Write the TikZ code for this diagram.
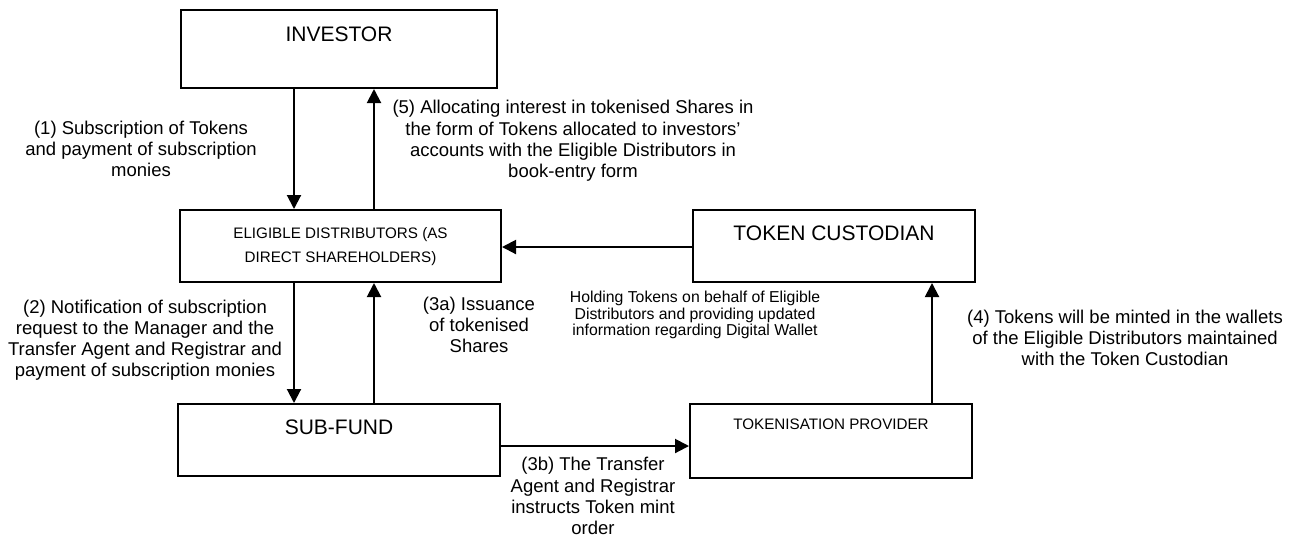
\documentclass[tikz,border=0pt]{standalone}
\usepackage{fontspec}
\setmainfont{Liberation Sans}
\usetikzlibrary{arrows.meta}
\begin{document}
\begin{tikzpicture}[x=0.5pt,y=-0.5pt,
  box/.style={draw,line width=1pt,inner sep=0pt},
  arr/.style={line width=1pt,-{Triangle[length=7pt,width=7pt]}},
  bigtxt/.style={inner sep=0pt,font=\fontsize{10.5pt}{12pt}\selectfont},
  smalltxt/.style={inner sep=0pt,align=center,font=\fontsize{7.6pt}{12pt}\selectfont},
  lbl/.style={inner sep=0pt,align=center,font=\fontsize{9.25pt}{10.6pt}\selectfont},
  note/.style={inner sep=0pt,align=center,font=\fontsize{7.9pt}{8.4pt}\selectfont}]
\useasboundingbox (0,0) rectangle (1304,538);
% boxes
\node[box,minimum width=158pt,minimum height=39pt] (inv) at (339,49) {};
\node[box,minimum width=160.5pt,minimum height=36pt] (elig) at (340.5,246) {};
\node[box,minimum width=141pt,minimum height=36pt] (tc) at (834,246) {};
\node[box,minimum width=161pt,minimum height=36pt] (sf) at (339,440) {};
\node[box,minimum width=141pt,minimum height=37pt] (tp) at (831,441) {};
% box texts
\node[bigtxt] (invt) at (339,34) {INVESTOR};
\node[smalltxt] (eligt) at (340.5,247) {ELIGIBLE DISTRIBUTORS (AS\\DIRECT SHAREHOLDERS)};
\node[bigtxt] (tct) at (834,233) {TOKEN CUSTODIAN};
\node[bigtxt] (sft) at (339,427) {SUB-FUND};
\node[smalltxt] (tpt) at (831,424) {TOKENISATION PROVIDER};
% connector x/y guides
\coordinate (cA) at (294,0);
\coordinate (cB) at (374,0);
\coordinate (cC) at (932,0);
\coordinate (cD) at (0,247);
\coordinate (cE) at (0,446);
% connectors
\draw[arr] (inv.south -| cA) -- (elig.north -| cA);
\draw[arr] (elig.north -| cB) -- (inv.south -| cB);
\draw[arr] (tc.west |- cD) -- (elig.east |- cD);
\draw[arr] (elig.south -| cA) -- (sf.north -| cA);
\draw[arr] (sf.north -| cB) -- (elig.south -| cB);
\draw[arr] (sf.east |- cE) -- (tp.west |- cE);
\draw[arr] (tp.north -| cC) -- (tc.south -| cC);
% labels
\node[lbl] (l1) at (141,149) {(1) Subscription of Tokens\\and payment of subscription\\monies};
\node[lbl] (l5) at (573,141) {(5) Allocating interest in tokenised Shares in\\the form of Tokens allocated to investors’\\accounts with the Eligible Distributors in\\book-entry form};
\node[lbl] (l2) at (145,340) {(2) Notification of subscription\\request to the Manager and the\\Transfer Agent and Registrar and\\payment of subscription monies};
\node[lbl] (l3a) at (479,325) {(3a) Issuance\\of tokenised\\Shares};
\node[note] (lh) at (695,315) {Holding Tokens on behalf of Eligible\\Distributors and providing updated\\information regarding Digital Wallet};
\node[lbl] (l3b) at (593,496) {(3b) The Transfer\\Agent and Registrar\\instructs Token mint\\order};
\node[lbl] (l4) at (1125,338) {(4) Tokens will be minted in the wallets\\of the Eligible Distributors maintained\\with the Token Custodian};
\end{tikzpicture}
\end{document}
